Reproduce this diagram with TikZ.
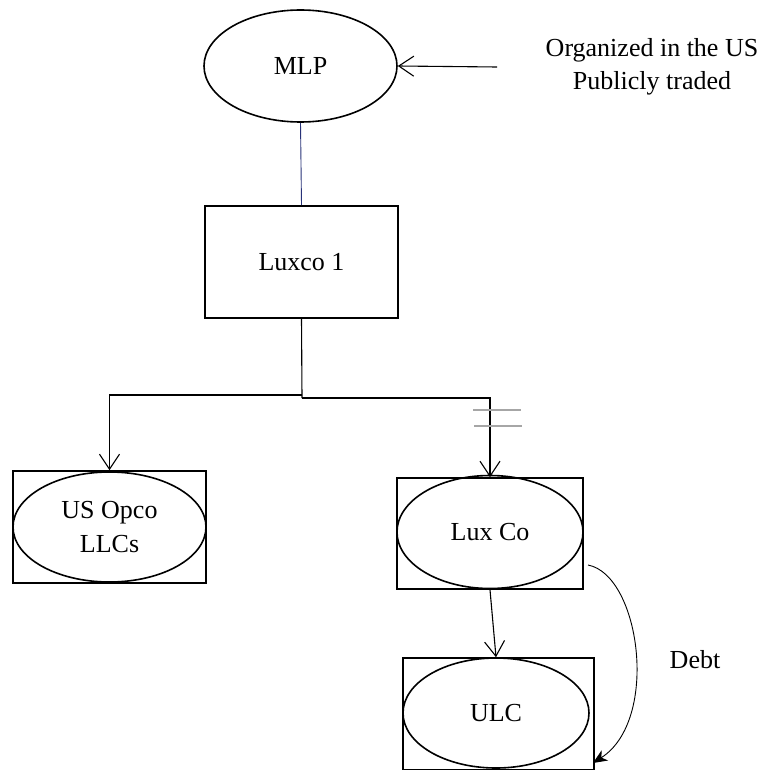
\documentclass[tikz,border=0pt]{standalone}
\usepackage{fontspec}
\setmainfont{Liberation Serif}
\usetikzlibrary{arrows.meta,shapes.geometric}
\definecolor{navyline}{RGB}{40,50,120}
\begin{document}
\begin{tikzpicture}[x=1pt,y=-1pt,
  font=\fontsize{26}{34}\selectfont,
  ell/.style={draw,ellipse,line width=1.6pt,inner sep=0pt,align=center},
  boxnode/.style={draw,rectangle,line width=1.7pt,inner sep=0pt,align=center},
  conn/.style={line width=1.1pt},
  openarrow/.style={conn,-{Straight Barb[length=15pt,width=20pt,line width=1.1pt]}},
  hash/.style={line width=1.5pt,draw=gray!70}]
\useasboundingbox (0,0) rectangle (762,770);

% MLP
\node[ell,minimum width=193pt,minimum height=112pt] (mlp) at (300.5,66) {MLP};
\node[align=center,font=\fontsize{26}{33}\selectfont] (org) at (652,66.5) {Organized in the US\\Publicly traded};
\coordinate (orgarrow) at (497,67);
\draw[openarrow] (orgarrow) -- (mlp.east);

% Luxco 1
\node[boxnode,minimum width=193pt,minimum height=112pt] (luxco) at (301.5,262) {Luxco 1};
\draw[line width=0.9pt,draw=navyline] (mlp.south) -- (luxco.north);

% US Opco
\node[boxnode,minimum width=193pt,minimum height=112pt] (usbox) at (109.5,527) {};
\node[ell,minimum width=193pt,minimum height=110pt] (usell) at (109.5,527) {US Opco\\LLCs};

% Lux Co
\node[boxnode,minimum width=186pt,minimum height=111pt] (luxbox) at (490,533.5) {};
\node[ell,minimum width=186pt,minimum height=113pt] (luxell) at (490,532) {Lux Co};

% ULC
\node[boxnode,minimum width=191pt,minimum height=112pt] (ulcbox) at (498.5,714) {};
\node[ell,minimum width=186pt,minimum height=110pt] (ulcell) at (496,713) {ULC};

% tree connectors
\coordinate (j1) at (302,395);
\coordinate (j2) at (302,398);
\draw[conn] (luxco.south) -- (j2);
\draw[openarrow] (j1) -| (usbox.north);
\draw[openarrow] (j2) -| (luxbox.north);
\draw[hash] (473,410) -- (521,410);
\draw[hash] (474,426) -- (522,426);

\draw[openarrow] (luxbox.south) -- (ulcell.north);

% Debt
\coordinate (debtstart) at (588,565);
\coordinate (debtend) at (593,763);
\draw[conn,line width=0.9pt,-{Stealth[length=14pt,width=12pt,inset=4pt]}] (debtstart) .. controls (640,575) and (660,720) .. (debtend);
\node (debt) at (695,660) {Debt};
\end{tikzpicture}
\end{document}
